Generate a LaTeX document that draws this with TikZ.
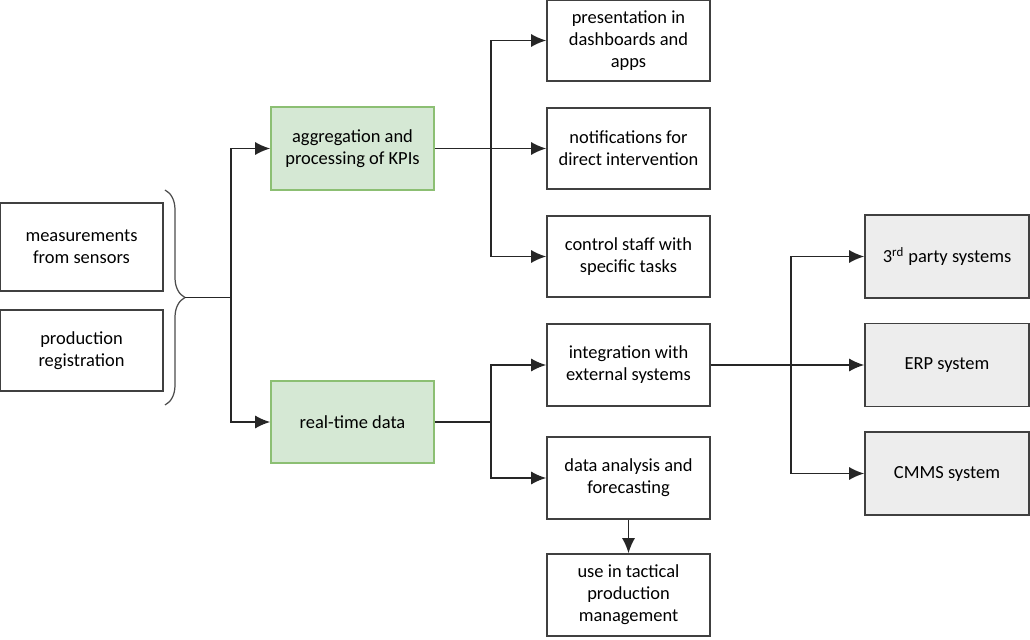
\documentclass[tikz,border=0pt]{standalone}
\usepackage{fontspec}
\setmainfont{Carlito}
\usetikzlibrary{arrows.meta,decorations.pathreplacing}

\definecolor{boxline}{HTML}{404040}
\definecolor{greenfill}{HTML}{D5E8D4}
\definecolor{greenline}{HTML}{8CBF73}
\definecolor{grayfill}{HTML}{EDEDED}

\tikzset{
  box/.style={draw=boxline, line width=0.9pt, fill=white, rectangle, minimum width=3.26cm, minimum height=1.64cm, align=center, font=\fontsize{10.5}{12.5}\selectfont},
  greenbox/.style={box, draw=greenline, fill=greenfill},
  graybox/.style={box, fill=grayfill, minimum width=3.28cm},
  arr/.style={-{Latex[length=3mm,width=2.6mm]}, line width=0.9pt, draw=black!85},
  link/.style={line width=0.9pt, draw=black!85}
}

\begin{document}
\begin{tikzpicture}
\useasboundingbox (0,0) rectangle (20.6,12.78);

% Data sources
\node[box, minimum height=1.76cm] (sens) at (1.63,7.84) {measurements\\from sensors};
\node[box, minimum height=1.62cm] (reg) at (1.63,5.77) {production\\registration};
\draw[line width=0.7pt, draw=black!70, decorate, decoration={brace, amplitude=0.4cm}] (3.30,8.98) -- (3.30,4.68);
\coordinate (brtip) at (3.70,6.83);

% Processing
\node[greenbox, minimum height=1.66cm] (agg) at (7.05,9.81) {aggregation and\\processing of KPIs};
\node[greenbox] (rt) at (7.05,4.34) {real-time data};

% Uses of KPIs
\node[box, minimum height=1.62cm] (pres) at (12.57,11.97) {presentation in\\dashboards and\\apps};
\node[box, minimum height=1.62cm] (notif) at (12.57,9.81) {notifications for\\direct intervention};
\node[box, minimum height=1.62cm] (ctrl) at (12.57,7.65) {control staff with\\specific tasks};

% Uses of real-time data
\node[box] (integ) at (12.57,5.48) {integration with\\external systems};
\node[box] (anal) at (12.57,3.22) {data analysis and\\forecasting};
\node[box] (tact) at (12.57,0.88) {use in tactical\\production\\management};

% External systems
\node[graybox, minimum height=1.66cm] (third) at (18.94,7.65) {3\textsuperscript{rd} party systems};
\node[graybox, minimum height=1.66cm] (erp) at (18.94,5.48) {ERP system};
\node[graybox, minimum height=1.66cm] (cmms) at (18.94,3.31) {CMMS system};

% Connectors
\draw[arr] (brtip) -- ++(0.92,0) |- (agg.west);
\draw[arr] (brtip) -- ++(0.92,0) |- (rt.west);

\draw[arr] (agg.east) -- ++(1.12,0) |- (pres.west);
\draw[arr] (agg.east) -- (notif.west);
\draw[arr] (agg.east) -- ++(1.12,0) |- (ctrl.west);

\draw[arr] (rt.east) -- ++(1.12,0) |- (integ.west);
\draw[arr] (rt.east) -- ++(1.12,0) |- (anal.west);
\draw[arr] (anal.south) -- (tact.north);

\draw[arr] (integ.east) -- ++(1.6,0) |- (third.west);
\draw[arr] (integ.east) -- (erp.west);
\draw[arr] (integ.east) -- ++(1.6,0) |- (cmms.west);
\end{tikzpicture}
\end{document}
